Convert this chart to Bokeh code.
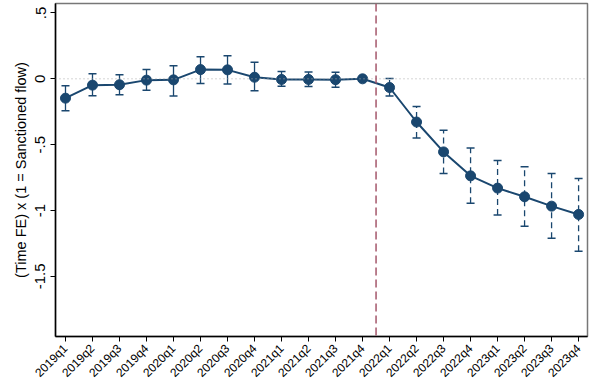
import math
from bokeh.plotting import figure
from bokeh.models import Range1d, FixedTicker, Span
from bokeh.embed import file_html
from bokeh.resources import INLINE

quarters = ["2019q1", "2019q2", "2019q3", "2019q4", "2020q1", "2020q2", "2020q3", "2020q4",
            "2021q1", "2021q2", "2021q3", "2021q4", "2022q1", "2022q2", "2022q3", "2022q4",
            "2023q1", "2023q2", "2023q3", "2023q4"]
coef = [-0.147, -0.048, -0.045, -0.01, -0.008, 0.07, 0.068, 0.012,
        -0.005, -0.005, -0.007, 0.0, -0.066, -0.328, -0.555, -0.737,
        -0.83, -0.896, -0.967, -1.03]
ci_hi = [-0.053, 0.038, 0.03, 0.07, 0.1, 0.167, 0.175, 0.126,
         0.055, 0.052, 0.05, 0.0, 0.002, -0.21, -0.39, -0.525,
         -0.62, -0.667, -0.72, -0.758]
ci_lo = [-0.242, -0.129, -0.121, -0.086, -0.13, -0.035, -0.04, -0.09,
         -0.056, -0.058, -0.064, 0.0, -0.13, -0.45, -0.72, -0.945,
         -1.035, -1.12, -1.21, -1.31]
ytick_vals = [0.5, 0, -0.5, -1, -1.5]
ytick_labels = [".5", "0", "-.5", "-1", "-1.5"]
event_pos = 11.5

navy = "#1a476f"
font = "Liberation Sans"

x = list(range(len(quarters)))
pre = [i for i in x if i < event_pos and ci_hi[i] != ci_lo[i]]
post = [i for i in x if i > event_pos]

p = figure(width=593, height=390, output_backend="svg", toolbar_location=None,
           x_range=Range1d(-0.37, 19.33), y_range=Range1d(-1.957, 0.572),
           min_border_left=55, min_border_right=6, min_border_top=3, min_border_bottom=54)
p.xgrid.visible = False
p.ygrid.visible = False
p.outline_line_color = "#777777"
p.outline_line_width = 1.5
p.background_fill_color = "white"
p.border_fill_color = "white"

# zero line and event line
p.add_layout(Span(location=0, dimension="width", line_color="#aaaaaa",
                  line_dash="1 3", line_width=1))
p.add_layout(Span(location=event_pos, dimension="height", line_color="#a4566a",
                  line_dash="8 4", line_width=1.5))

# error bars pre (solid)
p.segment(x0=[x[i] for i in pre], x1=[x[i] for i in pre],
          y0=[ci_lo[i] for i in pre], y1=[ci_hi[i] for i in pre],
          line_color=navy, line_width=1.3)
# error bars post (dashed)
p.segment(x0=[x[i] for i in post], x1=[x[i] for i in post],
          y0=[ci_lo[i] for i in post], y1=[ci_hi[i] for i in post],
          line_color=navy, line_width=1.3, line_dash="6 4")
caps = pre + post
p.scatter(x=[x[i] for i in caps] * 2, y=[ci_lo[i] for i in caps] + [ci_hi[i] for i in caps],
          marker="dash", size=8, line_color=navy, line_width=1.5)

p.line(x, coef, line_color=navy, line_width=2)
p.scatter(x, coef, size=10, fill_color=navy, line_color=navy)

# axes
p.xaxis.ticker = FixedTicker(ticks=x)
p.xaxis.major_label_overrides = {i: q for i, q in enumerate(quarters)}
p.xaxis.major_label_orientation = math.pi / 4
p.xaxis.minor_tick_line_color = None
p.xaxis.major_label_text_font = font
p.xaxis.major_label_text_font_size = "12px"
p.xaxis.major_label_text_color = "black"
p.xaxis.axis_line_color = "black"
p.xaxis.axis_line_width = 1.5
p.xaxis.major_tick_line_color = "black"
p.xaxis.major_tick_out = 5
p.xaxis.major_tick_in = 0

p.yaxis.ticker = FixedTicker(ticks=ytick_vals)
p.yaxis.major_label_overrides = {v: l for v, l in zip(ytick_vals, ytick_labels)}
p.yaxis.major_label_orientation = "vertical"
p.yaxis.minor_tick_line_color = None
p.yaxis.major_label_text_font = font
p.yaxis.major_label_text_font_size = "15px"
p.yaxis.major_label_text_color = "black"
p.yaxis.axis_line_color = "black"
p.yaxis.axis_line_width = 1.5
p.yaxis.major_tick_line_color = "black"
p.yaxis.major_tick_out = 5
p.yaxis.major_tick_in = 0
p.yaxis.axis_label = "(Time FE) x (1 = Sanctioned flow)"
p.yaxis.axis_label_text_font = font
p.yaxis.axis_label_text_font_size = "14.5px"
p.yaxis.axis_label_text_font_style = "normal"
p.yaxis.axis_label_text_color = "black"
p.yaxis.axis_label_standoff = 4

open("out.html", "w").write(file_html(p, INLINE))
